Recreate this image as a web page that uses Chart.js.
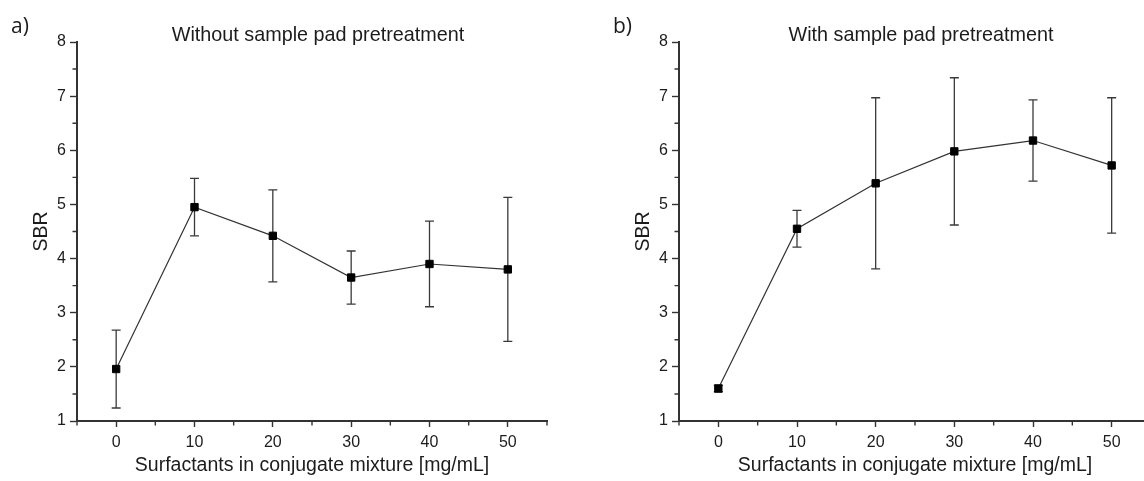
<!DOCTYPE html>
<html>
<head>
<meta charset="utf-8">
<title>SBR vs surfactant concentration</title>
<script src="https://cdn.jsdelivr.net/npm/chart.js@4/dist/chart.umd.min.js"></script>
<style>
  html, body { margin: 0; padding: 0; background: #fff; overflow: hidden; }
  .panel { position: absolute; top: 0; width: 572px; height: 481px; }
  #panelA { left: 0; }
  #panelB { left: 602px; }
</style>
</head>
<body>
<div class="panel" id="panelA"><canvas id="chartA" width="572" height="481"></canvas></div>
<div class="panel" id="panelB"><canvas id="chartB" width="572" height="481"></canvas></div>
<script>
// surfactant concentration in the conjugate mixture (mg/mL)
const concentrations = [0, 10, 20, 30, 40, 50]

// signal-to-background ratio, mean and standard deviation
const sbrWithout = [1.96, 4.95, 4.42, 3.65, 3.90, 3.80]
const errWithout = [0.72, 0.53, 0.85, 0.49, 0.79, 1.33]
const sbrWith = [1.60, 4.55, 5.39, 5.98, 6.18, 5.72]
const errWith = [0.06, 0.34, 1.58, 1.36, 0.75, 1.25]

const panelLetters = ['a)', 'b)']
const panelTitles = ['Without sample pad pretreatment', 'With sample pad pretreatment']
const xTitle = 'Surfactants in conjugate mixture [mg/mL]'
const yTitle = 'SBR'

const FONT = 'Arial, "Liberation Sans", sans-serif'
const AXIS = '#333333'
const TEXT = '#1c1c1c'

// error bars drawn under the line and markers
const errorBars = {
  id: 'errorBars',
  beforeDatasetsDraw(chart) {
    const { ctx, scales: { x, y } } = chart
    const errs = chart.options.plugins.errorBars.errors
    const ds = chart.data.datasets[0]
    ctx.save()
    ctx.strokeStyle = '#3a3a3a'
    ctx.lineWidth = 1.3
    ds.data.forEach((p, i) => {
      const px = x.getPixelForValue(p.x)
      const top = y.getPixelForValue(p.y + errs[i])
      const bot = y.getPixelForValue(p.y - errs[i])
      ctx.beginPath()
      ctx.moveTo(px, top); ctx.lineTo(px, bot)
      ctx.moveTo(px - 4.5, top); ctx.lineTo(px + 4.5, top)
      ctx.moveTo(px - 4.5, bot); ctx.lineTo(px + 4.5, bot)
      ctx.stroke()
    })
    ctx.restore()
  }
}

// short minor ticks between the labelled ones
const minorTicks = {
  id: 'minorTicks',
  afterDraw(chart) {
    const { ctx, scales: { x, y } } = chart
    ctx.save()
    ctx.strokeStyle = AXIS
    ctx.lineWidth = 1.4
    ctx.beginPath()
    x.ticks.forEach(t => {
      if (t.value % 10 === 0) return
      const px = x.getPixelForValue(t.value)
      ctx.moveTo(px, x.top); ctx.lineTo(px, x.top + 4.5)
    })
    y.ticks.forEach(t => {
      if (Number.isInteger(t.value)) return
      const py = y.getPixelForValue(t.value)
      ctx.moveTo(y.right, py); ctx.lineTo(y.right - 4.5, py)
    })
    ctx.stroke()
    ctx.restore()
  }
}

// panel letter, title and axis titles
const panelText = {
  id: 'panelText',
  afterDraw(chart) {
    const { ctx, chartArea } = chart
    const o = chart.options.plugins.panelText
    const cx = (chartArea.left + chartArea.right) / 2
    const cy = (chartArea.top + chartArea.bottom) / 2
    ctx.save()
    ctx.fillStyle = TEXT
    ctx.textBaseline = 'alphabetic'

    ctx.font = '21px "Open Sans", sans-serif'
    ctx.textAlign = 'left'
    ctx.fillText(o.letter, 11, 33)

    ctx.textAlign = 'center'
    ctx.font = '19.8px ' + FONT
    ctx.fillText(o.title, cx + 6, 40.5)
    ctx.font = '19.5px ' + FONT
    ctx.fillText(xTitle, cx, 470.5)

    ctx.translate(46.5, cy)
    ctx.rotate(-Math.PI / 2)
    ctx.fillText(yTitle, 0, 0)
    ctx.restore()
  }
}

function makePanel(canvasId, values, errors, index, padRight) {
  const ctx = document.getElementById(canvasId).getContext('2d')
  return new Chart(ctx, {
    type: 'line',
    data: {
      datasets: [{
        data: concentrations.map((c, i) => ({ x: c, y: values[i] })),
        borderColor: AXIS,
        borderWidth: 1.2,
        pointStyle: 'rect',
        pointRadius: 5.2,
        pointBackgroundColor: '#000',
        pointBorderColor: '#000',
        pointBorderWidth: 1,
        tension: 0
      }]
    },
    options: {
      responsive: false,
      animation: false,
      events: [],
      layout: { padding: { top: 42, right: padRight, bottom: 0, left: 0 } },
      plugins: {
        legend: { display: false },
        tooltip: { enabled: false },
        errorBars: { errors },
        panelText: { letter: panelLetters[index], title: panelTitles[index] }
      },
      scales: {
        x: {
          type: 'linear',
          min: -5,
          max: 55,
          border: { display: true, color: AXIS, width: 2 },
          grid: {
            drawOnChartArea: false,
            tickLength: 6,
            tickWidth: 1.4,
            tickColor: c => (c.tick && c.tick.value % 10 === 0 ? AXIS : 'rgba(0,0,0,0)')
          },
          ticks: {
            stepSize: 5,
            autoSkip: false,
            maxRotation: 0,
            padding: 6,
            color: TEXT,
            font: { family: FONT, size: 16 },
            callback: v => (v % 10 === 0 && v >= 0 && v <= 50 ? String(v) : '')
          },
          afterFit: s => { s.height = 60 }
        },
        y: {
          min: 1,
          max: 8,
          border: { display: true, color: AXIS, width: 2 },
          grid: {
            drawOnChartArea: false,
            tickLength: 7,
            tickWidth: 1.4,
            tickColor: c => (c.tick && Number.isInteger(c.tick.value) ? AXIS : 'rgba(0,0,0,0)')
          },
          ticks: {
            stepSize: 0.5,
            autoSkip: false,
            padding: 4,
            color: TEXT,
            font: { family: FONT, size: 16 },
            callback: v => (Number.isInteger(v) ? String(v) : '')
          },
          afterFit: s => { s.width = 77 }
        }
      }
    },
    plugins: [errorBars, minorTicks, panelText]
  })
}

makePanel('chartA', sbrWithout, errWithout, 0, 25)
makePanel('chartB', sbrWith, errWith, 1, 23)
</script>
</body>
</html>
